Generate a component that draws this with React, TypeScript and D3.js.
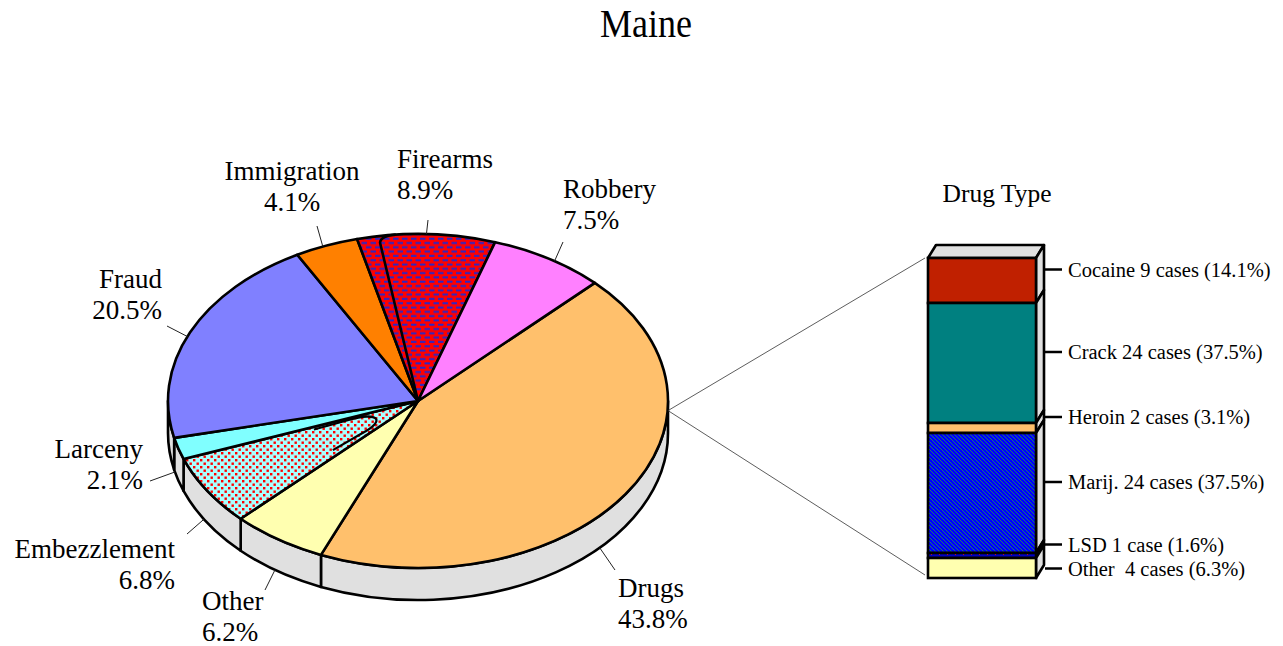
import React from "react";
import * as d3 from "d3";

// offense breakdown, clockwise from the upper right
const offenseNames = [
  "Drugs",
  "Other",
  "Embezzlement",
  "Larceny",
  "Fraud",
  "Immigration",
  "Firearms",
  "Robbery",
];
const offensePct = [43.8, 6.2, 6.8, 2.1, 20.5, 4.1, 8.9, 7.5];

// drug type breakdown, top to bottom
const drugNames = ["Cocaine", "Crack", "Heroin", "Marij.", "LSD", "Other "];
const drugCases = [9, 24, 2, 24, 1, 4];
const drugPct = [14.1, 37.5, 3.1, 37.5, 1.6, 6.3];

const W = 1283;
const H = 646;
const FONT = "'Liberation Serif', 'Times New Roman', serif";
const SW = 2.6;

const pieFill: Record<string, string> = {
  Drugs: "#FFC06C",
  Other: "#FFFFB0",
  Embezzlement: "url(#dots)",
  Larceny: "#80FFFF",
  Fraud: "#8080FF",
  Immigration: "#FF8000",
  Firearms: "url(#brick)",
  Robbery: "#FF80FF",
};

const barFill: Record<string, string> = {
  Cocaine: "#C02000",
  Crack: "#008080",
  Heroin: "#FFC06C",
  "Marij.": "url(#hatch)",
  LSD: "url(#lsd)",
  "Other ": "#FFFFB0",
};

// where the (hand placed) pie labels sit: text anchor + end of leader line
const labelLayout: Record<
  string,
  { x: number; y: number; anchor: string; lx: number; ly: number }
> = {
  Drugs: { x: 618, y: 597, anchor: "start", lx: 615, ly: 570 },
  Other: { x: 202, y: 610, anchor: "start", lx: 265, ly: 590 },
  Embezzlement: { x: 175, y: 558, anchor: "end", lx: 187, ly: 534 },
  Larceny: { x: 143, y: 458, anchor: "end", lx: 150, ly: 481 },
  Fraud: { x: 162, y: 288, anchor: "end", lx: 167, ly: 326 },
  Immigration: { x: 292, y: 180, anchor: "middle", lx: 317, ly: 226 },
  Firearms: { x: 397, y: 168, anchor: "start", lx: 428, ly: 220 },
  Robbery: { x: 563, y: 198, anchor: "start", lx: 563, ly: 242 },
};

const App: React.FC = () => {
  const svgRef = React.useRef<SVGSVGElement>(null);

  React.useEffect(() => {
    const svgEl = d3.select(svgRef.current);
    svgEl.selectAll("*").remove();

    // patterns
    const defs = svgEl.append("defs");

    const brick = defs
      .append("pattern")
      .attr("id", "brick")
      .attr("patternUnits", "userSpaceOnUse")
      .attr("width", 9)
      .attr("height", 8.6);
    brick.append("rect").attr("width", 9).attr("height", 8.6).attr("fill", "#FF0000");
    [
      [1.5, 1.2],
      [6, 5.5],
      [-3, 5.5],
    ].forEach(([x, y]) =>
      brick
        .append("rect")
        .attr("x", x)
        .attr("y", y)
        .attr("width", 5.5)
        .attr("height", 2)
        .attr("fill", "#2828C8")
    );

    const dots = defs
      .append("pattern")
      .attr("id", "dots")
      .attr("patternUnits", "userSpaceOnUse")
      .attr("width", 7)
      .attr("height", 7);
    dots.append("rect").attr("width", 7).attr("height", 7).attr("fill", "#A8FFFF");
    [
      [0.5, 0.5],
      [4, 4],
    ].forEach(([x, y]) =>
      dots
        .append("rect")
        .attr("x", x)
        .attr("y", y)
        .attr("width", 2.4)
        .attr("height", 2.4)
        .attr("fill", "#FF0000")
    );

    const hatch = defs
      .append("pattern")
      .attr("id", "hatch")
      .attr("patternUnits", "userSpaceOnUse")
      .attr("width", 4)
      .attr("height", 4);
    hatch.append("rect").attr("width", 4).attr("height", 4).attr("fill", "#0000FF");
    hatch
      .append("path")
      .attr("d", "M-1,-1 L5,5 M-1,3 L1,5 M3,-1 L5,1")
      .attr("stroke", "#20A040")
      .attr("stroke-width", 0.8);

    const lsd = defs
      .append("pattern")
      .attr("id", "lsd")
      .attr("patternUnits", "userSpaceOnUse")
      .attr("width", 8)
      .attr("height", 4);
    lsd.append("rect").attr("width", 8).attr("height", 4).attr("fill", "#0000C0");
    lsd
      .append("rect")
      .attr("x", 3)
      .attr("y", 1)
      .attr("width", 1)
      .attr("height", 2)
      .attr("fill", "#FF2020");

    svgEl.append("rect").attr("width", W).attr("height", H).attr("fill", "white");

    // title
    svgEl
      .append("text")
      .attr("transform", "translate(646,37) scale(0.9,1)")
      .attr("text-anchor", "middle")
      .attr("font-family", FONT)
      .attr("font-size", 40)
      .text("Maine");

    // ---------- 3D pie ----------
    const cx = 418;
    const cy = 401;
    const rx = 250;
    const ry = 167;
    const depth = 32;

    const pt = (a: number, dz = 0, f = 1): [number, number] => [
      cx + f * rx * Math.sin(a),
      cy - f * ry * Math.cos(a) + dz,
    ];

    const pie = d3
      .pie<number>()
      .sort(null)
      .startAngle(Math.PI / 4)
      .endAngle(Math.PI / 4 + 2 * Math.PI);
    const arcs = pie(offensePct).map((d, i) => ({ ...d, name: offenseNames[i] }));

    const gPie = svgEl.append("g").attr("id", "pie");

    // side walls (front half only)
    const front0 = Math.PI / 2;
    const front1 = (3 * Math.PI) / 2;
    arcs.forEach((d) => {
      const s = Math.max(d.startAngle, front0);
      const e = Math.min(d.endAngle, front1);
      if (s >= e) return;
      const [x0, y0] = pt(s);
      const [x1, y1] = pt(e);
      const [x2, y2] = pt(e, depth);
      const [x3, y3] = pt(s, depth);
      gPie
        .append("path")
        .attr(
          "d",
          `M${x0},${y0} A${rx},${ry} 0 0 1 ${x1},${y1} L${x2},${y2} A${rx},${ry} 0 0 0 ${x3},${y3} Z`
        )
        .attr("fill", "#E0E0E0")
        .attr("stroke", "black")
        .attr("stroke-width", SW)
        .attr("stroke-linejoin", "round");
    });

    // top faces
    arcs.forEach((d) => {
      const [x0, y0] = pt(d.startAngle);
      const [x1, y1] = pt(d.endAngle);
      const large = d.endAngle - d.startAngle > Math.PI ? 1 : 0;
      gPie
        .append("path")
        .attr(
          "d",
          `M${cx},${cy} L${x0},${y0} A${rx},${ry} 0 ${large} 1 ${x1},${y1} Z`
        )
        .attr("fill", pieFill[d.name])
        .attr("stroke", "black")
        .attr("stroke-width", SW)
        .attr("stroke-linejoin", "round");
    });

    // stray inner outlines of the patterned slices (as in the original export)
    const deg = Math.PI / 180;
    const fire = arcs.find((d) => d.name === "Firearms")!;
    {
      const a = fire.startAngle + 5 * deg;
      const p0 = pt(a, 0, 0.96);
      const c = pt(a + 0.5 * deg, 0, 1.0);
      const p1 = pt(a + 4 * deg, 0, 1.0);
      gPie
        .append("path")
        .attr("d", `M${cx},${cy} L${p0} Q${c} ${p1}`)
        .attr("fill", "none")
        .attr("stroke", "black")
        .attr("stroke-width", SW);
    }
    const emb = arcs.find((d) => d.name === "Embezzlement")!;
    {
      const a1 = emb.endAngle - 2 * deg;
      const a0 = emb.startAngle + 4 * deg;
      const A = pt(a1, 0, 0.45);
      const B = pt(a1, 0, 0.3);
      const c1 = pt(a1 + 1 * deg, 0, 0.17);
      const c2 = pt(a0 - 2 * deg, 0, 0.17);
      const C = pt(a0, 0, 0.3);
      const D = pt(a0, 0, 0.45);
      gPie
        .append("path")
        .attr("d", `M${A} L${B} C${c1} ${c2} ${C} L${D}`)
        .attr("fill", "none")
        .attr("stroke", "black")
        .attr("stroke-width", SW * 0.85);
    }

    // leader lines attach to the slice rim point closest to the label
    const rimPoint = (a: number): [number, number] => {
      const front = Math.cos(a) < 0;
      return pt(a, front ? depth : 0);
    };

    const gLabels = svgEl.append("g").attr("id", "pie_labels");
    arcs.forEach((d) => {
      const lay = labelLayout[d.name];
      let best: [number, number] = rimPoint((d.startAngle + d.endAngle) / 2);
      let bestDist = Infinity;
      d3.range(0, 1.0001, 0.02).forEach((f) => {
        const a = d.startAngle + f * (d.endAngle - d.startAngle);
        const p = rimPoint(a);
        const dist = Math.hypot(p[0] - lay.lx, p[1] - lay.ly);
        if (dist < bestDist) {
          bestDist = dist;
          best = p;
        }
      });
      gLabels
        .append("line")
        .attr("x1", lay.lx)
        .attr("y1", lay.ly)
        .attr("x2", best[0])
        .attr("y2", best[1])
        .attr("stroke", "#222")
        .attr("stroke-width", 1);

      const t = gLabels
        .append("text")
        .attr("font-family", FONT)
        .attr("font-size", 27)
        .attr("text-anchor", lay.anchor);
      t.append("tspan").attr("x", lay.x).attr("y", lay.y).text(d.name);
      t.append("tspan")
        .attr("x", lay.x)
        .attr("y", lay.y + 31)
        .text(`${d.data.toFixed(1)}%`);
    });

    // ---------- drug type bar ----------
    const barX = 928;
    const barW = 108;
    const barTop = 258;
    const barBottom = 578;
    const ox = 8;
    const oy = 13;

    const yScale = d3
      .scaleLinear()
      .domain([0, d3.sum(drugCases)])
      .range([barTop, barBottom]);

    const cum = d3.cumsum(drugCases);
    const segs = drugNames.map((name, i) => ({
      name,
      cases: drugCases[i],
      pct: drugPct[i],
      y0: yScale(i === 0 ? 0 : cum[i - 1]),
      y1: yScale(cum[i]),
    }));

    // connector lines from pie to bar
    const conStart: [number, number] = [cx + rx, cy + depth * 0.3];
    [barTop, barBottom - 3].forEach((yy) =>
      svgEl
        .append("line")
        .attr("x1", conStart[0])
        .attr("y1", conStart[1])
        .attr("x2", barX - 3)
        .attr("y2", yy)
        .attr("stroke", "#333")
        .attr("stroke-width", 0.8)
    );

    svgEl
      .append("text")
      .attr("x", 997)
      .attr("y", 202)
      .attr("text-anchor", "middle")
      .attr("font-family", FONT)
      .attr("font-size", 25.5)
      .text("Drug Type");

    const gBar = svgEl.append("g").attr("id", "bar");
    const line = d3.line();

    // top face
    gBar
      .append("path")
      .attr(
        "d",
        line([
          [barX, barTop],
          [barX + ox, barTop - oy],
          [barX + barW + ox, barTop - oy],
          [barX + barW, barTop],
        ])! + "Z"
      )
      .attr("fill", "#E0E0E0")
      .attr("stroke", "black")
      .attr("stroke-width", SW)
      .attr("stroke-linejoin", "round");

    segs.forEach((s) => {
      gBar
        .append("path")
        .attr(
          "d",
          line([
            [barX + barW, s.y0],
            [barX + barW + ox, s.y0 - oy],
            [barX + barW + ox, s.y1 - oy],
            [barX + barW, s.y1],
          ])! + "Z"
        )
        .attr("fill", "#E0E0E0")
        .attr("stroke", "black")
        .attr("stroke-width", SW)
        .attr("stroke-linejoin", "round");
      gBar
        .append("rect")
        .attr("x", barX)
        .attr("y", s.y0)
        .attr("width", barW)
        .attr("height", s.y1 - s.y0)
        .attr("fill", barFill[s.name])
        .attr("stroke", "black")
        .attr("stroke-width", SW);
    });

    // bar labels, pushed apart when they collide
    const tickYs = segs.map((s) => (s.y0 + s.y1) / 2 - 11);
    for (let i = 1; i < tickYs.length; i++) {
      if (tickYs[i] - tickYs[i - 1] < 24) tickYs[i] = tickYs[i - 1] + 24;
    }

    const gBarLabels = svgEl.append("g").attr("id", "bar_labels");
    segs.forEach((s, i) => {
      const yy = tickYs[i];
      gBarLabels
        .append("line")
        .attr("x1", barX + barW + ox + 1)
        .attr("x2", barX + barW + ox + 18)
        .attr("y1", yy)
        .attr("y2", yy)
        .attr("stroke", "black")
        .attr("stroke-width", 2.5);
      gBarLabels
        .append("text")
        .attr("x", barX + barW + ox + 24)
        .attr("y", yy + 7)
        .attr("font-family", FONT)
        .attr("font-size", 20.5)
        .style("white-space", "pre")
        .text(
          `${s.name} ${s.cases} ${s.cases === 1 ? "case" : "cases"} (${s.pct.toFixed(1)}%)`
        );
    });
  }, []);

  return (
    <svg
      ref={svgRef}
      width={W}
      height={H}
      style={{ position: "absolute", left: 0, top: 0, display: "block" }}
    />
  );
};

export default App;
